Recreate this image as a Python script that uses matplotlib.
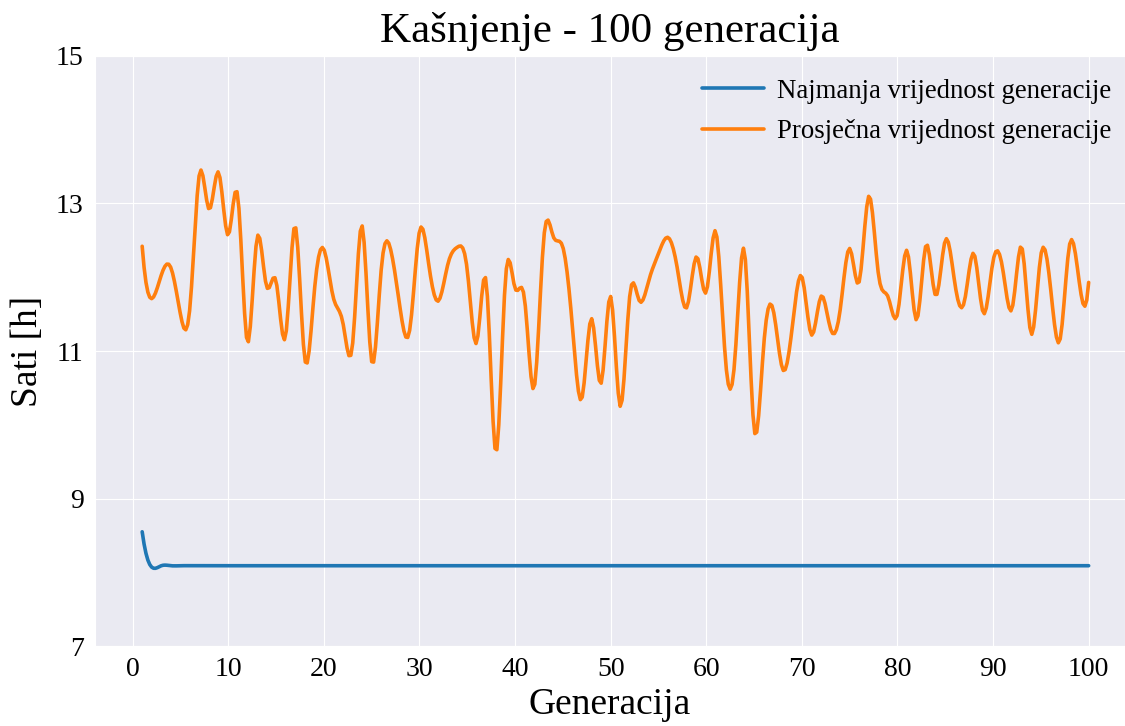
import numpy as np
import matplotlib
matplotlib.use('Agg')
import matplotlib.pyplot as plt
import seaborn as sns

generacije = list(range(1, 101))

najmanja = [
    8.55, 8.07, 8.09, 8.09, 8.09, 8.09, 8.09, 8.09, 8.09, 8.09,
    8.09, 8.09, 8.09, 8.09, 8.09, 8.09, 8.09, 8.09, 8.09, 8.09,
    8.09, 8.09, 8.09, 8.09, 8.09, 8.09, 8.09, 8.09, 8.09, 8.09,
    8.09, 8.09, 8.09, 8.09, 8.09, 8.09, 8.09, 8.09, 8.09, 8.09,
    8.09, 8.09, 8.09, 8.09, 8.09, 8.09, 8.09, 8.09, 8.09, 8.09,
    8.09, 8.09, 8.09, 8.09, 8.09, 8.09, 8.09, 8.09, 8.09, 8.09,
    8.09, 8.09, 8.09, 8.09, 8.09, 8.09, 8.09, 8.09, 8.09, 8.09,
    8.09, 8.09, 8.09, 8.09, 8.09, 8.09, 8.09, 8.09, 8.09, 8.09,
    8.09, 8.09, 8.09, 8.09, 8.09, 8.09, 8.09, 8.09, 8.09, 8.09,
    8.09, 8.09, 8.09, 8.09, 8.09, 8.09, 8.09, 8.09, 8.09, 8.09,
]

prosjecna = [
    12.42, 11.71, 12.03, 12.13, 11.50, 11.60, 13.41, 12.92, 13.42, 12.57,
    13.10, 11.12, 12.52, 11.88, 11.95, 11.20, 12.70, 10.90, 11.80, 12.38,
    11.72, 11.38, 11.08, 12.70, 10.86, 12.10, 12.37, 11.56, 11.30, 12.62,
    12.15, 11.68, 12.19, 12.41, 12.10, 11.12, 11.92, 9.62, 11.98, 11.85,
    11.70, 10.50, 12.52, 12.55, 12.41, 11.33, 10.36, 11.44, 10.56, 11.74,
    10.25, 11.75, 11.68, 11.96, 12.32, 12.54, 12.10, 11.60, 12.28, 11.80,
    12.62, 10.90, 10.90, 12.35, 9.95, 11.06, 11.56, 10.75, 11.33, 12.01,
    11.22, 11.74, 11.30, 11.55, 12.39, 11.94, 13.10, 12.05, 11.74, 11.50,
    12.36, 11.42, 12.44, 11.75, 12.50, 11.92, 11.67, 12.32, 11.51, 12.22,
    12.12, 11.58, 12.41, 11.23, 12.30, 11.87, 11.15, 12.44, 11.95, 11.93,
]


def spline(x, y, n=500):
    # cubic spline, not-a-knot ends (same as make_interp_spline k=3)
    x = np.asarray(x, float)
    y = np.asarray(y, float)
    m = len(x)
    h = np.diff(x)
    A = np.zeros((m, m))
    b = np.zeros(m)
    for i in range(1, m - 1):
        A[i, i - 1] = h[i - 1]
        A[i, i] = 2 * (h[i - 1] + h[i])
        A[i, i + 1] = h[i]
        b[i] = 6 * ((y[i + 1] - y[i]) / h[i] - (y[i] - y[i - 1]) / h[i - 1])
    A[0, 0], A[0, 1], A[0, 2] = h[1], -(h[0] + h[1]), h[0]
    A[-1, -3], A[-1, -2], A[-1, -1] = h[-1], -(h[-2] + h[-1]), h[-2]
    M = np.linalg.solve(A, b)

    xs = np.linspace(x[0], x[-1], n)
    idx = np.clip(np.searchsorted(x, xs) - 1, 0, m - 2)
    x0, x1 = x[idx], x[idx + 1]
    hh = x1 - x0
    ys = (M[idx] * (x1 - xs) ** 3 / (6 * hh) + M[idx + 1] * (xs - x0) ** 3 / (6 * hh)
          + (y[idx] / hh - M[idx] * hh / 6) * (x1 - xs)
          + (y[idx + 1] / hh - M[idx + 1] * hh / 6) * (xs - x0))
    return xs, ys


sns.set_style('darkgrid', {'grid.linewidth': 1.5})
plt.rcParams['font.family'] = ['Liberation Serif', 'DejaVu Serif']
plt.rcParams['text.color'] = 'black'
plt.rcParams['axes.labelcolor'] = 'black'
plt.rcParams['xtick.color'] = 'black'
plt.rcParams['ytick.color'] = 'black'

fig = plt.figure(figsize=(11.25, 7.26), dpi=100)
ax = fig.add_axes([0.0844, 0.110, 0.9156, 0.813])

xs, ys = spline(generacije, najmanja)
ax.plot(xs, ys, color='#1f77b4', linewidth=2.6, label='Najmanja vrijednost generacije')
xs, ys = spline(generacije, prosjecna)
ax.plot(xs, ys, color='#ff7f0e', linewidth=2.6, label='Prosječna vrijednost generacije')

ax.set_xlim(-3.94, 103.8)
ax.set_ylim(7, 15)
ax.set_xticks(range(0, 101, 10))
ax.set_yticks([7, 9, 11, 13, 15])
ax.tick_params(axis='both', labelsize=20, length=0, pad=8)

ax.set_title('Kašnjenje - 100 generacija', fontsize=31, pad=10)
ax.set_xlabel('Generacija', fontsize=27, labelpad=4)
ax.set_ylabel('Sati [h]', fontsize=27, labelpad=8)

ax.legend(loc='upper right', bbox_to_anchor=(1.009, 1.0), fontsize=19.3,
          frameon=False, handlelength=2.3, labelspacing=0.58,
          borderaxespad=0.45, handletextpad=0.5)

fig.savefig('out.png', dpi=100)
